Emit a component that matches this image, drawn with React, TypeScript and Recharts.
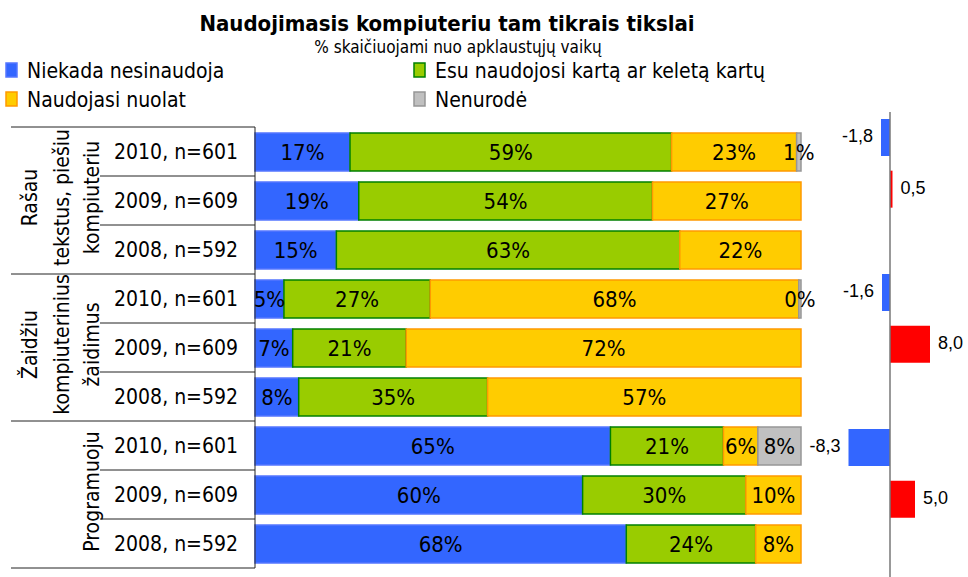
import React from "react";
import { BarChart, Bar, XAxis, YAxis, LabelList, Legend, Cell, ReferenceLine } from "recharts";

const FONT = "'DejaVu Sans Condensed', 'DejaVu Sans', sans-serif";
const ARIAL = "'Liberation Sans', Arial, sans-serif";

const title = "Naudojimasis kompiuteriu tam tikrais tikslai";
const subtitle = "% skaičiuojami nuo apklaustųjų vaikų";

const yearLabels = [
  "2010, n=601", "2009, n=609", "2008, n=592",
  "2010, n=601", "2009, n=609", "2008, n=592",
  "2010, n=601", "2009, n=609", "2008, n=592",
];
const groupLines = [
  ["Rašau", "tekstus, piešiu", "kompiuteriu"],
  ["Žaidžiu", "kompiuterinius", "žaidimus"],
  ["Programuoju"],
];

const seriesKeys = ["never", "few", "always", "na"];
const seriesNames = [
  "Niekada nesinaudoja",
  "Esu naudojosi kartą ar keletą kartų",
  "Naudojasi nuolat",
  "Nenurodė",
];
const fills = ["#3366FF", "#99CC00", "#FFCC00", "#C0C0C0"];
const strokes = ["#5577FF", "#008000", "#FF9900", "#969696"];

// percentages per row (top to bottom)
const never = [17.4, 19.0, 14.9, 5.3, 6.9, 8.0, 65.1, 60.0, 68.0];
const few = [58.9, 53.8, 62.9, 26.8, 20.8, 34.6, 20.7, 29.9, 23.7];
const always = [22.9, 27.2, 22.2, 67.5, 72.3, 57.4, 6.3, 10.1, 8.3];
const notGiven = [0.8, null, null, 0.4, null, null, 7.9, null, null];

// change of "Niekada nesinaudoja" vs previous year
const change = [-1.8, 0.5, null, -1.6, 8.0, null, -8.3, 5.0, null];

const rows = yearLabels.map((label, i) => ({
  id: i,
  label,
  never: never[i],
  few: few[i],
  always: always[i],
  na: notGiven[i],
  change: change[i],
}));

const BAND = 49;

function YearTick(props: any) {
  const { y, payload } = props;
  const i = Number(payload.value);
  const g = Math.floor(i / 3);
  const lines = groupLines[g];
  const lineX = [30, 62, 92];
  const bottomX = i % 3 === 2 ? 11 : 100;
  return (
    <g>
      {i === 0 && <line x1={11} x2={255} y1={y - BAND / 2} y2={y - BAND / 2} stroke="#222" />}
      <line x1={bottomX} x2={255} y1={y + BAND / 2} y2={y + BAND / 2} stroke="#222" />
      <text x={238} y={y} dy="0.36em" textAnchor="end" fontSize={21} fontFamily={FONT} fill="#000">
        {yearLabels[i]}
      </text>
      {i % 3 === 1 &&
        lines.map((t, k) => {
          const cx = lineX[lineX.length - lines.length + k];
          const cy = y - 3;
          return (
            <text
              key={t}
              x={cx}
              y={cy}
              dy="0.33em"
              textAnchor="middle"
              fontSize={21}
              fontFamily={FONT}
              fill="#000"
              transform={`rotate(-90 ${cx} ${cy})`}
            >
              {t}
            </text>
          );
        })}
    </g>
  );
}

function PctLabel(props: any) {
  const { x, y, width, height, value } = props;
  if (value == null) return null;
  return (
    <text
      x={x + width / 2}
      y={y + height / 2}
      dy="0.36em"
      textAnchor="middle"
      fontSize={22}
      fontFamily={FONT}
      fill="#000"
    >
      {Math.round(value)}%
    </text>
  );
}

function ChangeLabel(props: any) {
  const { x, y, width, height, value } = props;
  if (value == null) return null;
  const left = Math.min(x, x + width);
  const right = Math.max(x, x + width);
  const neg = value < 0;
  return (
    <text
      x={neg ? left - 8 : right + 8}
      y={y + height / 2 - 2}
      dy="0.36em"
      textAnchor={neg ? "end" : "start"}
      fontSize={18}
      fontFamily={ARIAL}
      fill="#000"
    >
      {value.toFixed(1).replace(".", ",")}
    </text>
  );
}

function LegendBox() {
  return (
    <svg width={968} height={60}>
      {seriesNames.map((name, i) => {
        const x = i % 2 === 0 ? 6 : 414;
        const y = Math.floor(i / 2) * 29;
        return (
          <g key={name}>
            <rect x={x} y={y + 7} width={11} height={14} fill={fills[i]} stroke={strokes[i]} strokeWidth={1.5} />
            <text x={x + 21} y={y + 22} fontSize={21} fontFamily={FONT} fill="#000">
              {name}
            </text>
          </g>
        );
      })}
    </svg>
  );
}

export default function App() {
  return (
    <div style={{ position: "absolute", left: 0, top: 0, width: 968, height: 577, background: "#fff" }}>
      <svg width={968} height={60} style={{ position: "absolute", left: 0, top: 0 }}>
        <text x={447} y={31} textAnchor="middle" fontSize={22} fontWeight="bold" fontFamily={FONT} fill="#000">
          {title}
        </text>
        <text x={458} y={53} textAnchor="middle" fontSize={17} fontFamily={FONT} fill="#000">
          {subtitle}
        </text>
      </svg>
      <div style={{ position: "absolute", left: 0, top: 0 }}>
        <BarChart
          layout="vertical"
          width={968}
          height={577}
          data={rows}
          margin={{ top: 127, right: 167, bottom: 9, left: 0 }}
          barSize={38}
        >
          <XAxis type="number" domain={[0, 100]} hide />
          <YAxis
            type="category"
            dataKey="id"
            width={255}
            interval={0}
            tickLine={false}
            axisLine={{ stroke: "#222" }}
            tick={<YearTick />}
          />
          <Legend
            layout="horizontal"
            verticalAlign="middle"
            align="center"
            content={() => <LegendBox />}
            wrapperStyle={{ top: 56, left: 0, width: 968, height: 60 }}
          />
          {seriesKeys.map((k, i) => (
            <Bar
              key={k}
              dataKey={k}
              name={seriesNames[i]}
              stackId="a"
              fill={fills[i]}
              stroke={strokes[i]}
              strokeWidth={1.5}
              isAnimationActive={false}
            >
              <LabelList dataKey={k} content={<PctLabel />} />
            </Bar>
          ))}
        </BarChart>
      </div>
      <div style={{ position: "absolute", left: 800, top: 0 }}>
        <BarChart
          layout="vertical"
          width={168}
          height={577}
          data={rows}
          margin={{ top: 112, right: 28, bottom: 0, left: 40 }}
          barSize={37}
        >
          <XAxis type="number" domain={[-10, 10]} hide />
          <YAxis type="category" dataKey="id" hide />
          <Bar dataKey="change" isAnimationActive={false}>
            {rows.map((r) => (
              <Cell key={r.id} fill={r.change != null && r.change < 0 ? "#3366FF" : "#FF0000"} />
            ))}
            <LabelList dataKey="change" content={<ChangeLabel />} />
          </Bar>
          <ReferenceLine x={0} stroke="#777" strokeWidth={1.5} />
        </BarChart>
      </div>
    </div>
  );
}
